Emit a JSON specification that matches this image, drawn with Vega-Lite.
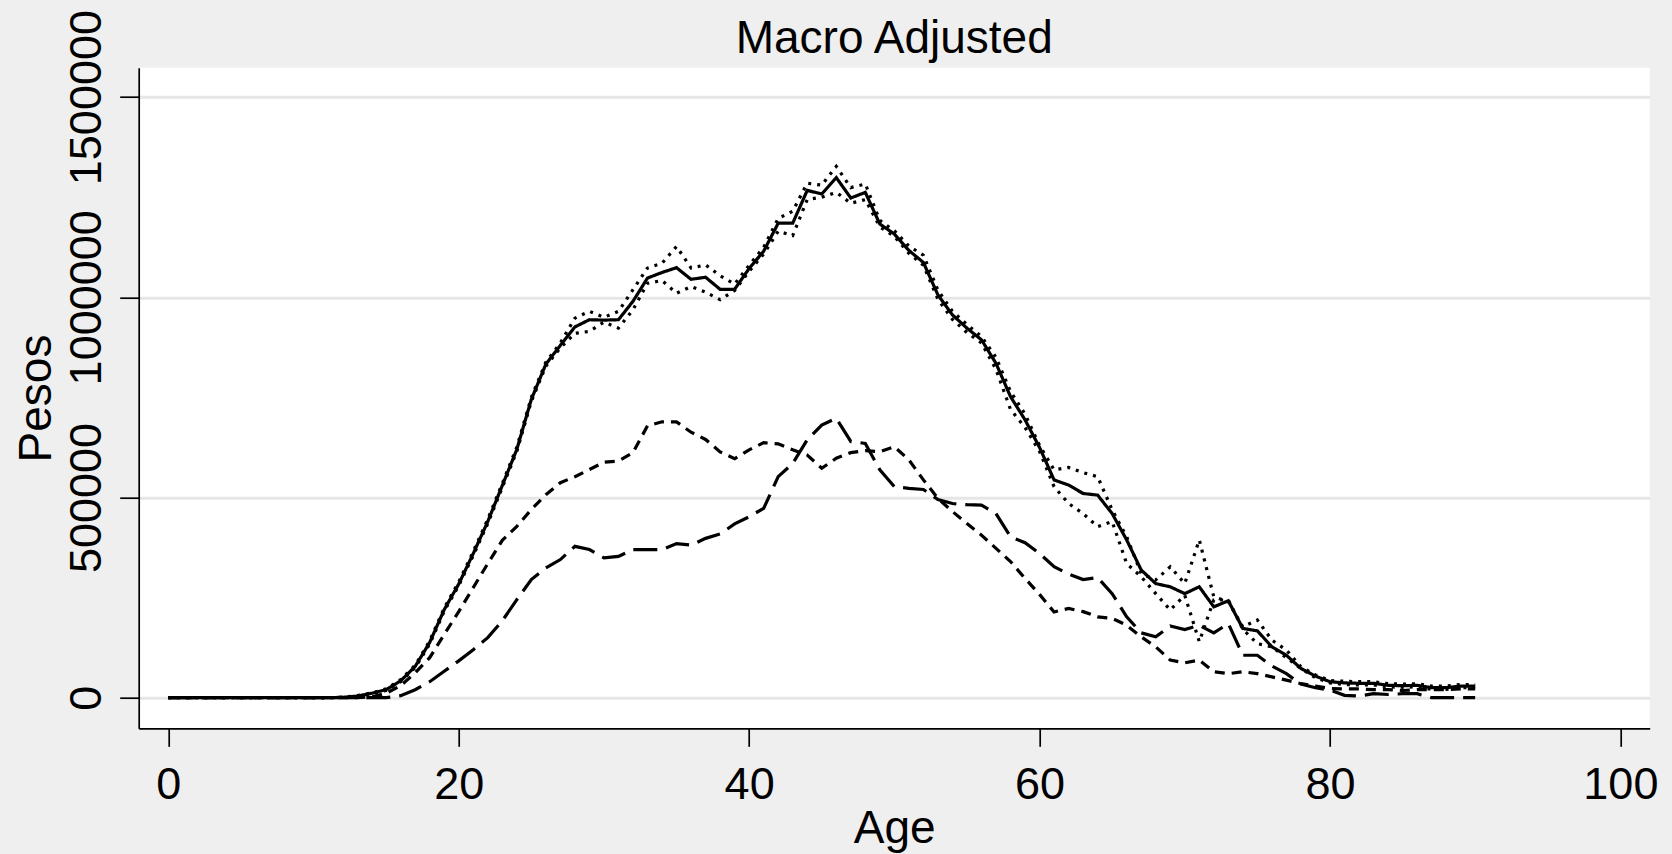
{
  "$schema": "https://vega.github.io/schema/vega-lite/v6.json",
  "width": 1511,
  "height": 660.6,
  "autosize": {"type": "none"},
  "padding": {"left": 138.7, "top": 67.7, "right": 22.3, "bottom": 125.7},
  "background": "#efefef",
  "title": {
    "text": "Macro Adjusted",
    "fontSize": 46,
    "font": "Liberation Sans",
    "fontWeight": "normal",
    "color": "black",
    "anchor": "middle",
    "frame": "group",
    "baseline": "alphabetic",
    "offset": 15,
    "dy": 105
  },
  "data": {
    "values": [
      {"age": 0, "s": 0, "u": 0, "l": 0, "d": 0, "ld": 0},
      {"age": 1, "s": 0, "u": 0, "l": 0, "d": 0, "ld": 0},
      {"age": 2, "s": 0, "u": 0, "l": 0, "d": 0, "ld": 0},
      {"age": 3, "s": 0, "u": 0, "l": 0, "d": 0, "ld": 0},
      {"age": 4, "s": 0, "u": 0, "l": 0, "d": 0, "ld": 0},
      {"age": 5, "s": 0, "u": 0, "l": 0, "d": 0, "ld": 0},
      {"age": 6, "s": 0, "u": 0, "l": 0, "d": 0, "ld": 0},
      {"age": 7, "s": 0, "u": 0, "l": 0, "d": 0, "ld": 0},
      {"age": 8, "s": 0, "u": 0, "l": 0, "d": 0, "ld": 0},
      {"age": 9, "s": 0, "u": 0, "l": 0, "d": 0, "ld": 0},
      {"age": 10, "s": 0, "u": 0, "l": 0, "d": 0, "ld": 0},
      {"age": 11, "s": 0, "u": 0, "l": 0, "d": 0, "ld": 0},
      {"age": 12, "s": 1000, "u": 1000, "l": 1000, "d": 0, "ld": 0},
      {"age": 13, "s": 4000, "u": 5000, "l": 3000, "d": 0, "ld": 0},
      {"age": 14, "s": 11000, "u": 12000, "l": 10000, "d": 2000, "ld": 0},
      {"age": 15, "s": 20000, "u": 22000, "l": 18000, "d": 11000, "ld": 0},
      {"age": 16, "s": 42000, "u": 45000, "l": 40000, "d": 30000, "ld": 5000},
      {"age": 17, "s": 78000, "u": 81000, "l": 75000, "d": 62000, "ld": 20000},
      {"age": 18, "s": 138000, "u": 142000, "l": 134000, "d": 100000, "ld": 40000},
      {"age": 19, "s": 220000, "u": 224000, "l": 216000, "d": 158000, "ld": 66000},
      {"age": 20, "s": 284000, "u": 289000, "l": 280000, "d": 215000, "ld": 92000},
      {"age": 21, "s": 360000, "u": 365000, "l": 355000, "d": 275000, "ld": 120000},
      {"age": 22, "s": 440000, "u": 446000, "l": 435000, "d": 335000, "ld": 150000},
      {"age": 23, "s": 530000, "u": 535000, "l": 525000, "d": 393000, "ld": 192000},
      {"age": 24, "s": 620000, "u": 626000, "l": 615000, "d": 428000, "ld": 245000},
      {"age": 25, "s": 745000, "u": 750000, "l": 740000, "d": 470000, "ld": 295000},
      {"age": 26, "s": 833000, "u": 838000, "l": 828000, "d": 507000, "ld": 324000},
      {"age": 27, "s": 880000, "u": 886000, "l": 874000, "d": 537000, "ld": 345000},
      {"age": 28, "s": 926000, "u": 948000, "l": 910000, "d": 552000, "ld": 378000},
      {"age": 29, "s": 944000, "u": 965000, "l": 915000, "d": 570000, "ld": 370000},
      {"age": 30, "s": 943000, "u": 950000, "l": 938000, "d": 588000, "ld": 349000},
      {"age": 31, "s": 944000, "u": 965000, "l": 923000, "d": 591000, "ld": 353000},
      {"age": 32, "s": 990000, "u": 1019000, "l": 969000, "d": 612000, "ld": 370000},
      {"age": 33, "s": 1048000, "u": 1073000, "l": 1035000, "d": 679000, "ld": 370000},
      {"age": 34, "s": 1062000, "u": 1085000, "l": 1042000, "d": 689000, "ld": 370000},
      {"age": 35, "s": 1074000, "u": 1127000, "l": 1010000, "d": 689000, "ld": 385000},
      {"age": 36, "s": 1045000, "u": 1073000, "l": 1027000, "d": 663000, "ld": 381000},
      {"age": 37, "s": 1050000, "u": 1081000, "l": 1013000, "d": 645000, "ld": 398000},
      {"age": 38, "s": 1020000, "u": 1054000, "l": 994000, "d": 614000, "ld": 409000},
      {"age": 39, "s": 1020000, "u": 1033000, "l": 1017000, "d": 597000, "ld": 434000},
      {"age": 40, "s": 1072000, "u": 1080000, "l": 1065000, "d": 619000, "ld": 452000},
      {"age": 41, "s": 1115000, "u": 1125000, "l": 1108000, "d": 637000, "ld": 473000},
      {"age": 42, "s": 1185000, "u": 1197000, "l": 1165000, "d": 634000, "ld": 552000},
      {"age": 43, "s": 1185000, "u": 1215000, "l": 1154000, "d": 619000, "ld": 585000},
      {"age": 44, "s": 1267000, "u": 1285000, "l": 1244000, "d": 606000, "ld": 644000},
      {"age": 45, "s": 1258000, "u": 1280000, "l": 1250000, "d": 573000, "ld": 681000},
      {"age": 46, "s": 1299000, "u": 1327000, "l": 1262000, "d": 598000, "ld": 698000},
      {"age": 47, "s": 1248000, "u": 1274000, "l": 1235000, "d": 612000, "ld": 640000},
      {"age": 48, "s": 1262000, "u": 1283000, "l": 1244000, "d": 617000, "ld": 635000},
      {"age": 49, "s": 1183000, "u": 1192000, "l": 1176000, "d": 614000, "ld": 569000},
      {"age": 50, "s": 1158000, "u": 1166000, "l": 1152000, "d": 627000, "ld": 527000},
      {"age": 51, "s": 1117000, "u": 1128000, "l": 1110000, "d": 594000, "ld": 523000},
      {"age": 52, "s": 1087000, "u": 1105000, "l": 1080000, "d": 544000, "ld": 520000},
      {"age": 53, "s": 1006000, "u": 1018000, "l": 995000, "d": 498000, "ld": 495000},
      {"age": 54, "s": 956000, "u": 965000, "l": 945000, "d": 465000, "ld": 485000},
      {"age": 55, "s": 923000, "u": 932000, "l": 912000, "d": 435000, "ld": 482000},
      {"age": 56, "s": 894000, "u": 902000, "l": 886000, "d": 406000, "ld": 481000},
      {"age": 57, "s": 835000, "u": 850000, "l": 820000, "d": 373000, "ld": 460000},
      {"age": 58, "s": 752000, "u": 765000, "l": 720000, "d": 340000, "ld": 402000},
      {"age": 59, "s": 694000, "u": 708000, "l": 675000, "d": 298000, "ld": 387000},
      {"age": 60, "s": 625000, "u": 630000, "l": 615000, "d": 258000, "ld": 360000},
      {"age": 61, "s": 544000, "u": 569000, "l": 527000, "d": 214000, "ld": 327000},
      {"age": 62, "s": 531000, "u": 575000, "l": 485000, "d": 223000, "ld": 309000},
      {"age": 63, "s": 510000, "u": 562000, "l": 460000, "d": 215000, "ld": 295000},
      {"age": 64, "s": 506000, "u": 552000, "l": 427000, "d": 202000, "ld": 300000},
      {"age": 65, "s": 460000, "u": 469000, "l": 440000, "d": 198000, "ld": 260000},
      {"age": 66, "s": 394000, "u": 402000, "l": 335000, "d": 181000, "ld": 202000},
      {"age": 67, "s": 319000, "u": 310000, "l": 302000, "d": 152000, "ld": 162000},
      {"age": 68, "s": 285000, "u": 294000, "l": 260000, "d": 127000, "ld": 152000},
      {"age": 69, "s": 277000, "u": 327000, "l": 219000, "d": 94000, "ld": 179000},
      {"age": 70, "s": 260000, "u": 285000, "l": 256000, "d": 87000, "ld": 170000},
      {"age": 71, "s": 277000, "u": 394000, "l": 140000, "d": 94000, "ld": 181000},
      {"age": 72, "s": 227000, "u": 252000, "l": 244000, "d": 65000, "ld": 162000},
      {"age": 73, "s": 242000, "u": 240000, "l": 244000, "d": 60000, "ld": 185000},
      {"age": 74, "s": 173000, "u": 177000, "l": 171000, "d": 65000, "ld": 106000},
      {"age": 75, "s": 167000, "u": 194000, "l": 135000, "d": 60000, "ld": 106000},
      {"age": 76, "s": 127000, "u": 144000, "l": 127000, "d": 52000, "ld": 79000},
      {"age": 77, "s": 106000, "u": 119000, "l": 100000, "d": 44000, "ld": 60000},
      {"age": 78, "s": 73000, "u": 77000, "l": 73000, "d": 35000, "ld": 34000},
      {"age": 79, "s": 54000, "u": 57000, "l": 50000, "d": 29000, "ld": 25000},
      {"age": 80, "s": 40000, "u": 43000, "l": 37000, "d": 23000, "ld": 19000},
      {"age": 81, "s": 37000, "u": 41000, "l": 33000, "d": 22000, "ld": 6000},
      {"age": 82, "s": 36000, "u": 40000, "l": 32000, "d": 22000, "ld": 4000},
      {"age": 83, "s": 36000, "u": 40000, "l": 32000, "d": 20000, "ld": 10000},
      {"age": 84, "s": 31000, "u": 35000, "l": 27000, "d": 20000, "ld": 8000},
      {"age": 85, "s": 30000, "u": 34000, "l": 26000, "d": 18000, "ld": 10000},
      {"age": 86, "s": 31000, "u": 35000, "l": 27000, "d": 20000, "ld": 10000},
      {"age": 87, "s": 25000, "u": 29000, "l": 21000, "d": 20000, "ld": 0},
      {"age": 88, "s": 25000, "u": 29000, "l": 21000, "d": 20000, "ld": 0},
      {"age": 89, "s": 29000, "u": 33000, "l": 25000, "d": 22000, "ld": 0},
      {"age": 90, "s": 29000, "u": 33000, "l": 25000, "d": 22000, "ld": 0}
    ]
  },
  "transform": [{"fold": ["s", "u", "l", "d", "ld"], "as": ["series", "value"]}],
  "mark": {"type": "line", "color": "black", "strokeWidth": 3.2, "strokeCap": "butt", "strokeJoin": "miter"},
  "encoding": {
    "x": {
      "field": "age",
      "type": "quantitative",
      "scale": {"domain": [-2.04, 102.02], "nice": false, "zero": false},
      "axis": {
        "values": [0, 20, 40, 60, 80, 100],
        "grid": false,
        "domainColor": "black",
        "domainWidth": 1.7,
        "tickColor": "black",
        "tickWidth": 1.7,
        "tickSize": 18,
        "labelFont": "Liberation Sans",
        "labelFontSize": 45,
        "labelColor": "black",
        "labelBaseline": "alphabetic",
        "labelPadding": 52,
        "labelFlush": false,
        "labelOverlap": false,
        "title": "Age",
        "titleFont": "Liberation Sans",
        "titleFontSize": 46,
        "titleFontWeight": "normal",
        "titleColor": "black",
        "titleBaseline": "alphabetic",
        "titleY": 114
      }
    },
    "y": {
      "field": "value",
      "type": "quantitative",
      "scale": {"domain": [-76400, 1573400], "nice": false, "zero": false},
      "axis": {
        "values": [0, 500000, 1000000, 1500000],
        "format": "d",
        "grid": true,
        "gridColor": "#e6e6e6",
        "gridWidth": 3,
        "domainColor": "black",
        "domainWidth": 1.7,
        "tickColor": "black",
        "tickWidth": 1.7,
        "tickSize": 19,
        "labelFont": "Liberation Sans",
        "labelFontSize": 45,
        "labelColor": "black",
        "labelAngle": 270,
        "labelAlign": "center",
        "labelBaseline": "alphabetic",
        "labelPadding": 19.7,
        "labelOverlap": false,
        "title": "Pesos",
        "titleFont": "Liberation Sans",
        "titleFontSize": 46,
        "titleFontWeight": "normal",
        "titleColor": "black",
        "titleAngle": 270,
        "titleAlign": "center",
        "titleBaseline": "alphabetic",
        "titleX": -88.7,
        "titleY": 330.3
      }
    },
    "strokeDash": {
      "field": "series",
      "type": "nominal",
      "scale": {
        "domain": ["s", "u", "l", "d", "ld"],
        "range": [[1, 0], [3, 6], [3, 6], [10, 7], [24, 9]]
      },
      "legend": null
    }
  },
  "config": {
    "view": {"fill": "white", "stroke": null}
  }
}
